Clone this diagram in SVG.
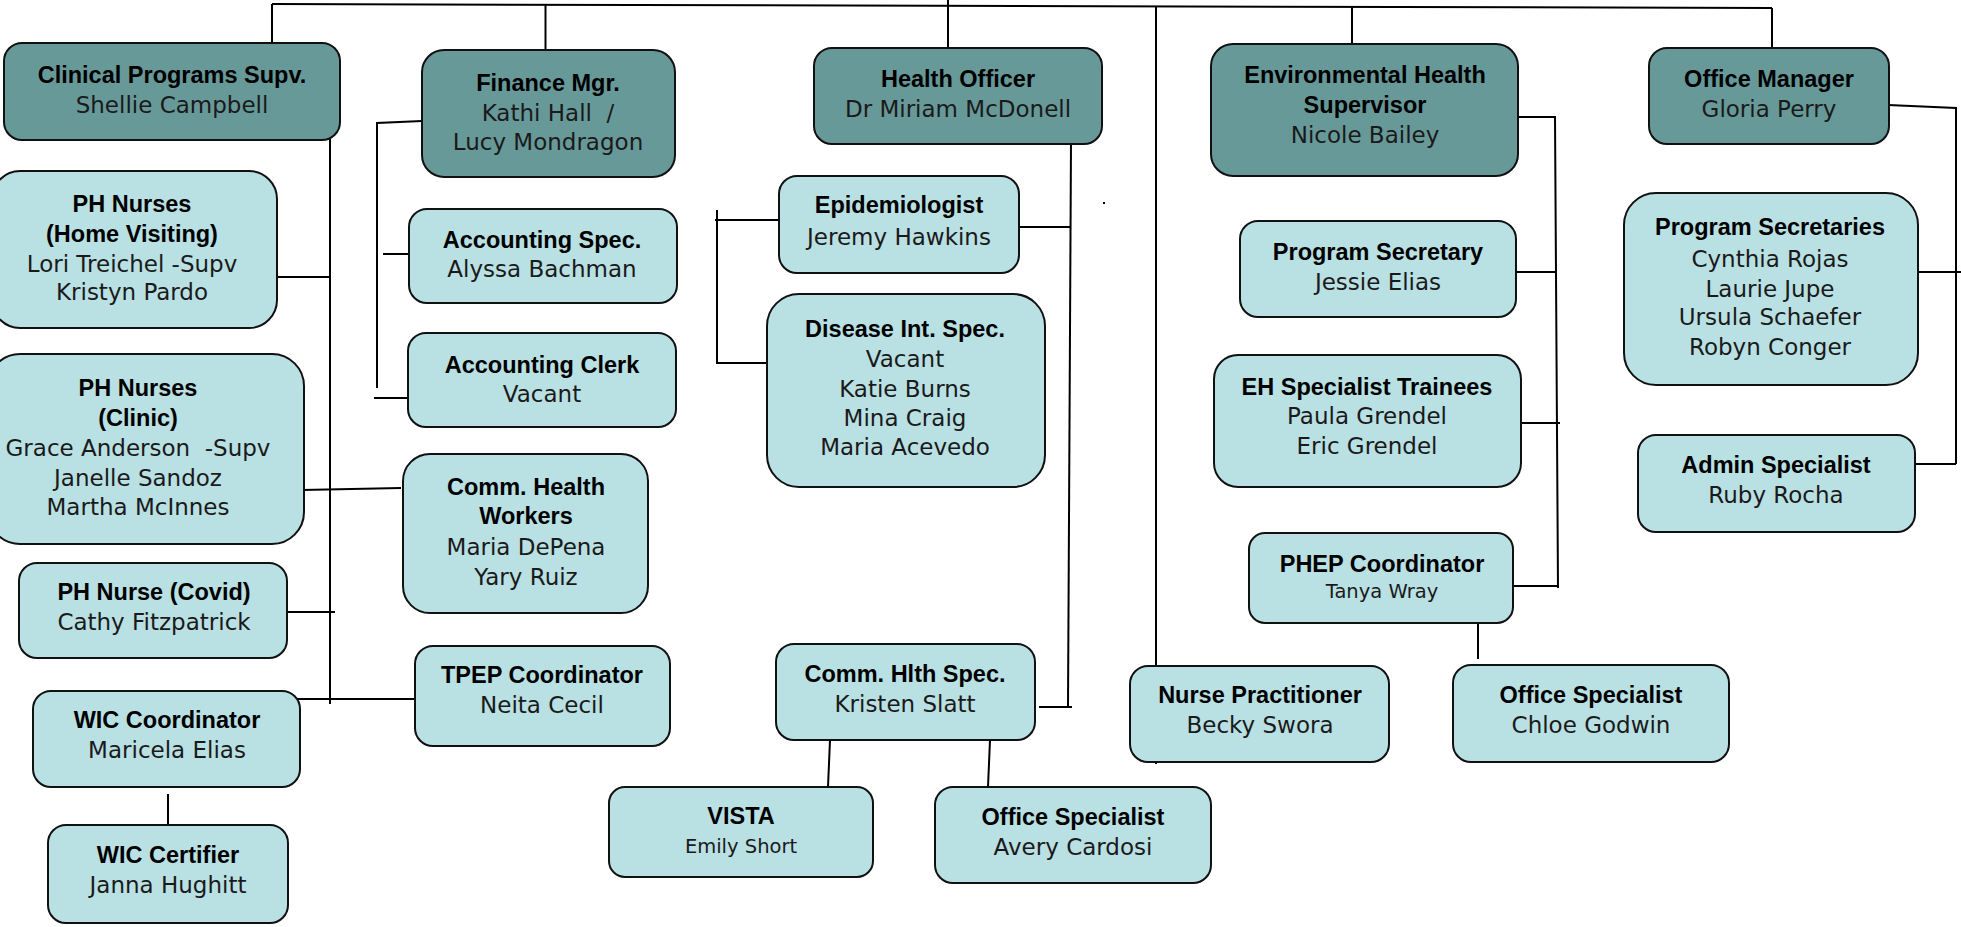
<svg xmlns="http://www.w3.org/2000/svg" width="1961" height="927" viewBox="0 0 1961 927">
<style>
.dk{fill:#679999;stroke:#111;stroke-width:2}
.lt{fill:#b9e0e3;stroke:#111;stroke-width:2}
.t{font-family:"Liberation Sans",Arial,sans-serif;font-weight:bold;font-size:23.5px;fill:#000;text-anchor:middle}
.n{font-family:"DejaVu Sans","Noto Sans",sans-serif;font-size:23px;fill:#1a1a1a;text-anchor:middle;white-space:pre}
.s{font-size:19.5px}
#connectors path{fill:none;stroke:#000;stroke-width:2}
</style>
<rect width="1961" height="927" fill="#fff"/>
<g id="connectors">
<path d="M272,4 L1772,8"/>
<path d="M272,4 V43"/>
<path d="M545.5,5 V50"/>
<path d="M948,0 V48"/>
<path d="M1352,7 V44"/>
<path d="M1772,8 V48"/>
<path d="M1156,7 V764"/>
<path d="M330,135 V704"/>
<path d="M277,277 H330"/>
<path d="M302,490 L401,488"/>
<path d="M287,612 H335"/>
<path d="M297,699 H415"/>
<path d="M168,794 V829"/>
<path d="M422,121 L377,123 V388"/>
<path d="M383,254 H409"/>
<path d="M374,398 H408"/>
<path d="M1071,142 L1068,707"/>
<path d="M1019,227 H1071"/>
<path d="M1039,707 H1072"/>
<path d="M717,210 V363 H767"/>
<path d="M715,220 H779"/>
<path d="M830,740 L828,787"/>
<path d="M990,740 L988,787"/>
<path d="M1518,117 H1555 L1558,588"/>
<path d="M1516,272 H1555"/>
<path d="M1521,423 H1560"/>
<path d="M1513,586 H1558"/>
<path d="M1478,623 V659"/>
<path d="M1888,105 L1956,108 V464"/>
<path d="M1918,272 H1961"/>
<path d="M1915,464 H1956"/>
<rect x="1103" y="202" width="2" height="2" fill="#000" stroke="none"/>
</g>
<g id="clinical-programs-supv">
<rect class="dk" x="4" y="43" width="336" height="97" rx="18"/>
<text class="t" x="172" y="83">Clinical Programs Supv.</text>
<text class="n" x="172" y="113">Shellie Campbell</text>
</g>
<g id="finance-mgr">
<rect class="dk" x="422" y="50" width="253" height="127" rx="22"/>
<text class="t" x="548" y="91">Finance Mgr.</text>
<text class="n" x="548" y="121">Kathi Hall  /</text>
<text class="n" x="548" y="150">Lucy Mondragon</text>
</g>
<g id="health-officer">
<rect class="dk" x="814" y="48" width="288" height="96" rx="18"/>
<text class="t" x="958" y="87">Health Officer</text>
<text class="n" x="958" y="117">Dr Miriam McDonell</text>
</g>
<g id="env-health-supervisor">
<rect class="dk" x="1211" y="44" width="307" height="132" rx="22"/>
<text class="t" x="1365" y="83">Environmental Health</text>
<text class="t" x="1365" y="113">Supervisor</text>
<text class="n" x="1365" y="143">Nicole Bailey</text>
</g>
<g id="office-manager">
<rect class="dk" x="1649" y="48" width="240" height="96" rx="18"/>
<text class="t" x="1769" y="87">Office Manager</text>
<text class="n" x="1769" y="117">Gloria Perry</text>
</g>
<g id="ph-nurses-home-visiting">
<rect class="lt" x="-8" y="171" width="285" height="157" rx="28"/>
<text class="t" x="132" y="212">PH Nurses</text>
<text class="t" x="132" y="242">(Home Visiting)</text>
<text class="n" x="132" y="272">Lori Treichel -Supv</text>
<text class="n" x="132" y="300">Kristyn Pardo</text>
</g>
<g id="ph-nurses-clinic">
<rect class="lt" x="-12" y="354" width="316" height="190" rx="32"/>
<text class="t" x="138" y="396">PH Nurses</text>
<text class="t" x="138" y="426">(Clinic)</text>
<text class="n" x="138" y="456">Grace Anderson  -Supv</text>
<text class="n" x="138" y="486">Janelle Sandoz</text>
<text class="n" x="138" y="515">Martha McInnes</text>
</g>
<g id="ph-nurse-covid">
<rect class="lt" x="19" y="563" width="268" height="95" rx="18"/>
<text class="t" x="154" y="600">PH Nurse (Covid)</text>
<text class="n" x="154" y="630">Cathy Fitzpatrick</text>
</g>
<g id="wic-coordinator">
<rect class="lt" x="33" y="691" width="267" height="96" rx="18"/>
<text class="t" x="167" y="728">WIC Coordinator</text>
<text class="n" x="167" y="758">Maricela Elias</text>
</g>
<g id="wic-certifier">
<rect class="lt" x="48" y="825" width="240" height="98" rx="18"/>
<text class="t" x="168" y="863">WIC Certifier</text>
<text class="n" x="168" y="893">Janna Hughitt</text>
</g>
<g id="accounting-spec">
<rect class="lt" x="409" y="209" width="268" height="94" rx="18"/>
<text class="t" x="542" y="248">Accounting Spec.</text>
<text class="n" x="542" y="277">Alyssa Bachman</text>
</g>
<g id="accounting-clerk">
<rect class="lt" x="408" y="333" width="268" height="94" rx="18"/>
<text class="t" x="542" y="373">Accounting Clerk</text>
<text class="n" x="542" y="402">Vacant</text>
</g>
<g id="comm-health-workers">
<rect class="lt" x="403" y="454" width="245" height="159" rx="27"/>
<text class="t" x="526" y="495">Comm. Health</text>
<text class="t" x="526" y="524">Workers</text>
<text class="n" x="526" y="555">Maria DePena</text>
<text class="n" x="526" y="585">Yary Ruiz</text>
</g>
<g id="tpep-coordinator">
<rect class="lt" x="415" y="646" width="255" height="100" rx="18"/>
<text class="t" x="542" y="683">TPEP Coordinator</text>
<text class="n" x="542" y="713">Neita Cecil</text>
</g>
<g id="epidemiologist">
<rect class="lt" x="779" y="176" width="240" height="97" rx="18"/>
<text class="t" x="899" y="213">Epidemiologist</text>
<text class="n" x="899" y="245">Jeremy Hawkins</text>
</g>
<g id="disease-int-spec">
<rect class="lt" x="767" y="294" width="278" height="193" rx="32"/>
<text class="t" x="905" y="337">Disease Int. Spec.</text>
<text class="n" x="905" y="367">Vacant</text>
<text class="n" x="905" y="397">Katie Burns</text>
<text class="n" x="905" y="426">Mina Craig</text>
<text class="n" x="905" y="455">Maria Acevedo</text>
</g>
<g id="comm-hlth-spec">
<rect class="lt" x="776" y="644" width="259" height="96" rx="18"/>
<text class="t" x="905" y="682">Comm. Hlth Spec.</text>
<text class="n" x="905" y="712">Kristen Slatt</text>
</g>
<g id="vista">
<rect class="lt" x="609" y="787" width="264" height="90" rx="16"/>
<text class="t" x="741" y="824">VISTA</text>
<text class="n s" x="741" y="853">Emily Short</text>
</g>
<g id="office-specialist-cardosi">
<rect class="lt" x="935" y="787" width="276" height="96" rx="18"/>
<text class="t" x="1073" y="825">Office Specialist</text>
<text class="n" x="1073" y="855">Avery Cardosi</text>
</g>
<g id="nurse-practitioner">
<rect class="lt" x="1130" y="666" width="259" height="96" rx="18"/>
<text class="t" x="1260" y="703">Nurse Practitioner</text>
<text class="n" x="1260" y="733">Becky Swora</text>
</g>
<g id="program-secretary">
<rect class="lt" x="1240" y="221" width="276" height="96" rx="18"/>
<text class="t" x="1378" y="260">Program Secretary</text>
<text class="n" x="1378" y="290">Jessie Elias</text>
</g>
<g id="eh-specialist-trainees">
<rect class="lt" x="1214" y="355" width="307" height="132" rx="24"/>
<text class="t" x="1367" y="395">EH Specialist Trainees</text>
<text class="n" x="1367" y="424">Paula Grendel</text>
<text class="n" x="1367" y="454">Eric Grendel</text>
</g>
<g id="phep-coordinator">
<rect class="lt" x="1249" y="533" width="264" height="90" rx="16"/>
<text class="t" x="1382" y="572">PHEP Coordinator</text>
<text class="n s" x="1382" y="598">Tanya Wray</text>
</g>
<g id="office-specialist-godwin">
<rect class="lt" x="1453" y="665" width="276" height="97" rx="18"/>
<text class="t" x="1591" y="703">Office Specialist</text>
<text class="n" x="1591" y="733">Chloe Godwin</text>
</g>
<g id="program-secretaries">
<rect class="lt" x="1624" y="193" width="294" height="192" rx="32"/>
<text class="t" x="1770" y="235">Program Secretaries</text>
<text class="n" x="1770" y="267">Cynthia Rojas</text>
<text class="n" x="1770" y="297">Laurie Jupe</text>
<text class="n" x="1770" y="325">Ursula Schaefer</text>
<text class="n" x="1770" y="355">Robyn Conger</text>
</g>
<g id="admin-specialist">
<rect class="lt" x="1638" y="435" width="277" height="97" rx="18"/>
<text class="t" x="1776" y="473">Admin Specialist</text>
<text class="n" x="1776" y="503">Ruby Rocha</text>
</g>
</svg>
